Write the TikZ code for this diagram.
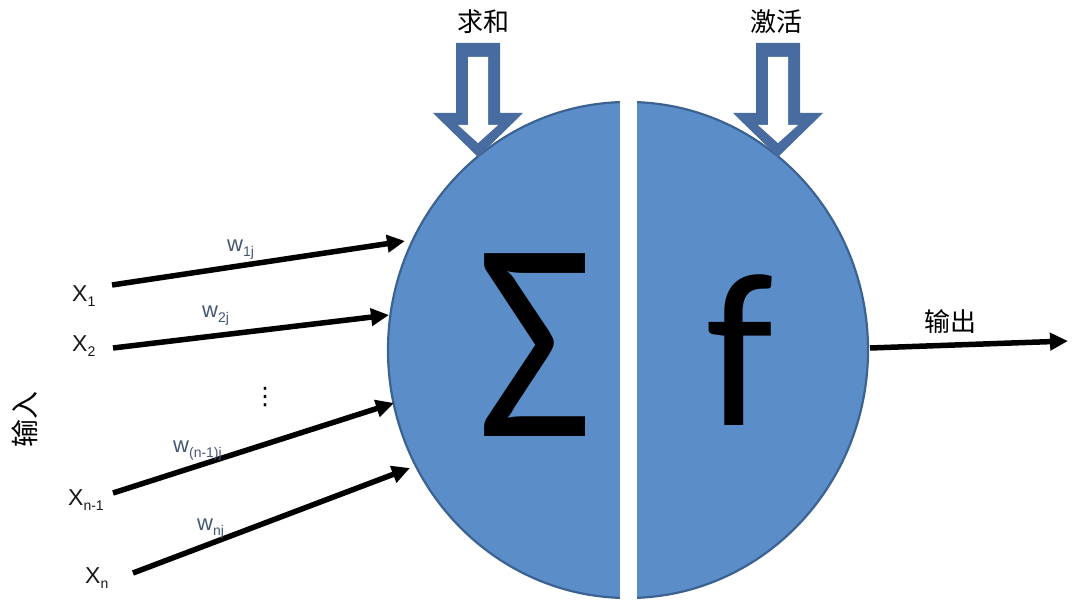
\documentclass[tikz,border=0pt]{standalone}
\usepackage{fontspec}
\setmainfont{Liberation Sans}
\newfontfamily\cjkfont{Noto Sans CJK SC}
\newfontfamily\calfont{Carlito}
\newfontfamily\symfont{DejaVu Sans}
\usetikzlibrary{arrows.meta,shapes.geometric}
\definecolor{cfill}{RGB}{91,142,201}
\definecolor{cline}{RGB}{60,98,145}
\definecolor{aline}{RGB}{72,108,160}
\definecolor{wcol}{RGB}{68,88,118}
\definecolor{xcol}{RGB}{25,25,25}
\newcommand\lowsub[1]{\raisebox{-5pt}{\fontsize{14}{14}\selectfont #1}}
\tikzset{
  cjklabel/.style={inner sep=0pt, font=\cjkfont\fontsize{26}{26}\selectfont, text=black},
  xlabel/.style={inner sep=0pt, anchor=base west, font=\fontsize{23}{23}\selectfont, text=xcol},
  wlabel/.style={inner sep=0pt, anchor=base west, font=\fontsize{22}{22}\selectfont, text=wcol},
  inarrow/.style={line width=5.5pt, -{Triangle[length=18pt,width=17pt]}},
  neuronstyle/.style={ellipse, draw=cline, line width=2.2pt, fill=cfill, minimum width=480pt, minimum height=496pt, inner sep=0pt},
  bigsym/.style={inner sep=0pt, text=black},
  blockarrow/.pic={
    \fill[aline] (-22,43) -- (22,43) -- (22,113) -- (45,113) -- (0,157) -- (-45,113) -- (-22,113) -- cycle;
    \fill[white] (-10,57) -- (10,57) -- (10,125) -- (20,125) -- (0,143) -- (-20,125) -- (-10,125) -- cycle;
  }
}
\begin{document}
\begin{tikzpicture}[x=1pt,y=-1pt]
\useasboundingbox (0,0) rectangle (1080,612);
\fill[white] (0,0) rectangle (1080,612);
% neuron
\node[neuronstyle] (neuron) at (628,350) {};
\fill[white] (620,100) rectangle (637,600);
\node[bigsym, font=\calfont\fontsize{285}{285}\selectfont] (sigma) at (535,345) {\scalebox{0.88}[1]{Σ}};
\node[bigsym, font=\calfont\fontsize{220}{220}\selectfont] (fn) at (740,350) {f};
% top block arrows
\pic (sumarrow) at (478,0) {blockarrow};
\pic (actarrow) at (778,0) {blockarrow};
\node[cjklabel] (sumlbl) at (483,22) {求和};
\node[cjklabel] (actlbl) at (776,22) {激活};
% inputs
\node[xlabel] (x1) at (72,302) {X\lowsub{1}};
\node[xlabel] (x2) at (72,352) {X\lowsub{2}};
\node[xlabel] (xn1) at (68,505) {X\lowsub{n-1}};
\node[xlabel] (xn) at (85,583) {X\lowsub{n}};
\node[inner sep=0pt, font=\symfont\fontsize{24}{24}\selectfont] (dots) at (265,397) {⋮};
\node[cjklabel, font=\cjkfont\fontsize{28}{28}\selectfont, rotate=90] (inlbl) at (25,420) {输入};
\coordinate (s1) at (112,285); \coordinate (e1) at (405,241);
\coordinate (s2) at (113,348); \coordinate (e2) at (389,315);
\coordinate (s3) at (113,493); \coordinate (e3) at (394,403);
\coordinate (s4) at (133,573); \coordinate (e4) at (410,468);
\draw[inarrow] (s1) -- (e1);
\draw[inarrow] (s2) -- (e2);
\draw[inarrow] (s3) -- (e3);
\draw[inarrow] (s4) -- (e4);
\node[wlabel] (w1) at (227,252) {w\lowsub{1j}};
\node[wlabel] (w2) at (202,318) {w\lowsub{2j}};
\node[wlabel] (wn1) at (173,453) {w\lowsub{(n-1)j}};
\node[wlabel] (wn) at (197,530) {w\lowsub{nj}};
% output
\coordinate (o1) at (870,348);
\coordinate (o2) at (1068,341);
\draw[inarrow] (o1) -- (o2);
\node[cjklabel] (outlbl) at (950,322) {输出};
\end{tikzpicture}
\end{document}
